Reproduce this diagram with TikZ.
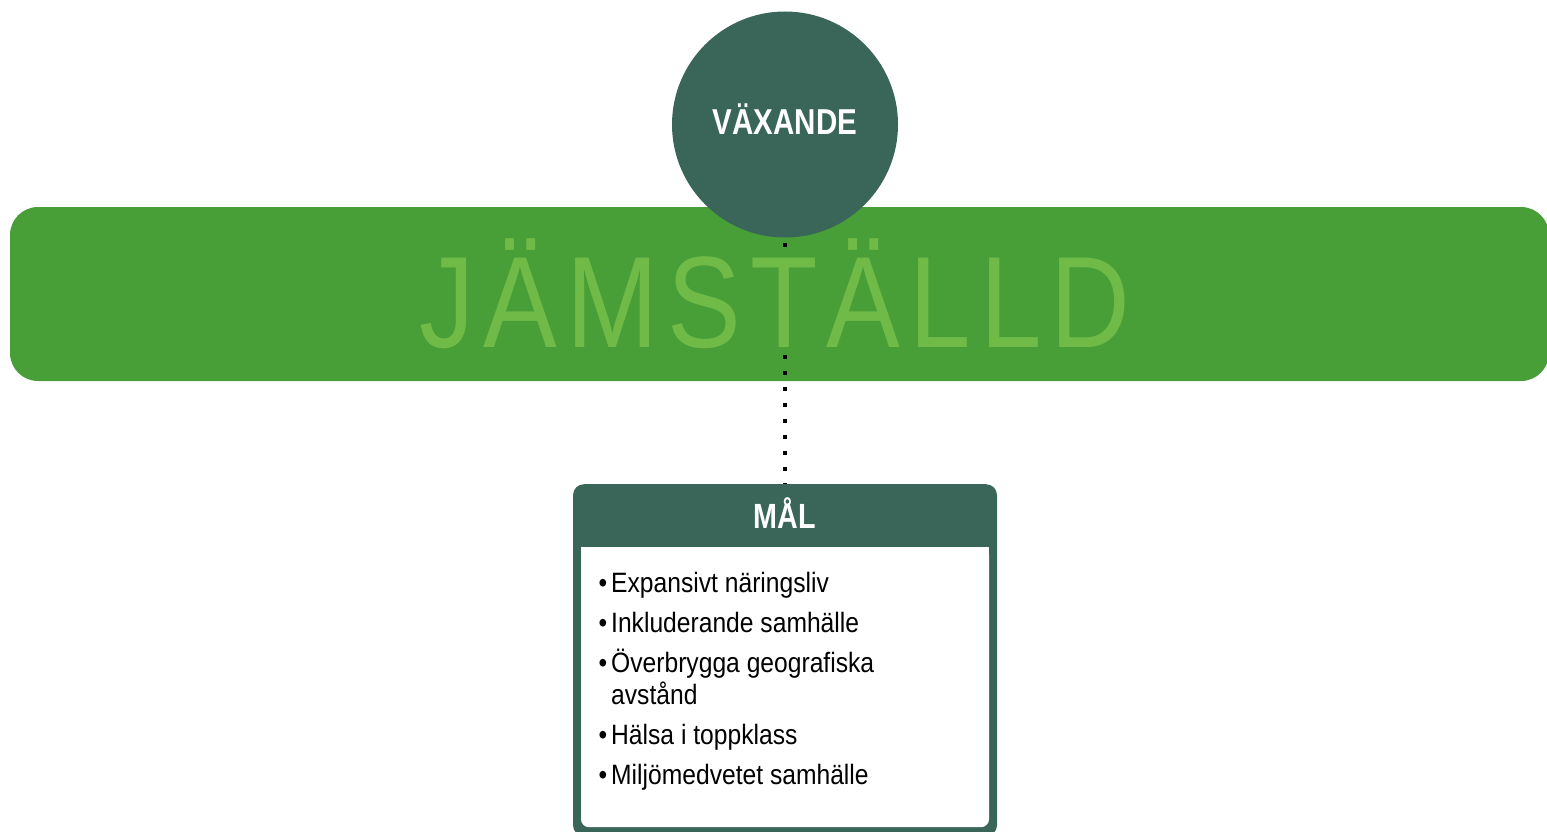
\documentclass[tikz,border=0pt]{standalone}
\usepackage{fontspec}
\setmainfont{Liberation Sans}
\newfontfamily\narrowfont[FakeStretch=0.88]{Liberation Sans}
\newfontfamily\titlefont[FakeStretch=0.82]{Liberation Sans}
\newfontfamily\bannerfont[FakeStretch=0.85,LetterSpace=7]{Liberation Sans}
\usetikzlibrary{calc}
\usetikzlibrary{backgrounds}
\usetikzlibrary{positioning}
\definecolor{bandgreen}{RGB}{72,158,55}
\definecolor{lightgreen}{RGB}{112,187,71}
\definecolor{darkgreen}{RGB}{58,102,89}

\begin{document}
\begin{tikzpicture}[x=1pt,y=-1pt]
  % some styles
  \tikzset{
    band/.style={
      rectangle,
      rounded corners=28pt,
      minimum width=1539pt,
      minimum height=174pt,
      inner sep=0pt,
      fill=bandgreen
    }
  }
  \tikzset{growth/.style={circle,fill=darkgreen,minimum size=226pt,inner sep=0pt}}
  \tikzset{goalframe/.style={rectangle,rounded corners=11pt,fill=darkgreen,minimum width=424pt,minimum height=352pt,inner sep=0pt}}
  \tikzset{goalbody/.style={rectangle,rounded corners=8pt,fill=white,minimum width=408pt,minimum height=280pt,inner sep=0pt}}
  \tikzset{headtext/.style={text=white,inner sep=0pt,font=\titlefont\bfseries\fontsize{36}{36}\selectfont}}
  \tikzset{bannertext/.style={text=lightgreen,inner sep=0pt,font=\bannerfont\fontsize{130}{130}\selectfont}}
  \tikzset{listtext/.style={align=left,inner sep=0pt,font=\narrowfont\fontsize{28}{32}\selectfont}}
  \tikzset{dots/.style={line width=4pt,dash pattern=on 4pt off 12pt,dash phase=10.5pt}}

\useasboundingbox (0,0) rectangle (1547,832);

\begin{scope}[on background layer]
  \node[band] (band) at (779.5,294) {};
\end{scope}
\node[bannertext,anchor=base] (equal) at (775,347) {JÄMSTÄLLD};

\node[growth] (vax) at (785,124.5) {};
\node[headtext,anchor=base] (vaxtitle) at (785,135) {VÄXANDE};

% goal box
\node[goalframe,anchor=north] (mal) at (785,484) {};
\node[goalbody,anchor=north] (body) at (785,547) {};
\fill[white] (body.north west) rectangle ($(body.north east)+(0,20)$);
\node[headtext,anchor=base,font=\titlefont\bfseries\fontsize{35}{35}\selectfont] (maltitle) at (785,528) {MÅL};
\node[listtext,anchor=north west] (goals) at (611,572) {%
  \llap{•\hspace{4pt}}Expansivt näringsliv\\[8pt]
  \llap{•\hspace{4pt}}Inkluderande samhälle\\[8pt]
  \llap{•\hspace{4pt}}Överbrygga geografiska\\
  avstånd\\[8pt]
  \llap{•\hspace{4pt}}Hälsa i toppklass\\[8pt]
  \llap{•\hspace{4pt}}Miljömedvetet samhälle};

\begin{scope}[on background layer]
  \draw[dots] (vax.south) -- (mal.north);
\end{scope}

\end{tikzpicture}
\end{document}
